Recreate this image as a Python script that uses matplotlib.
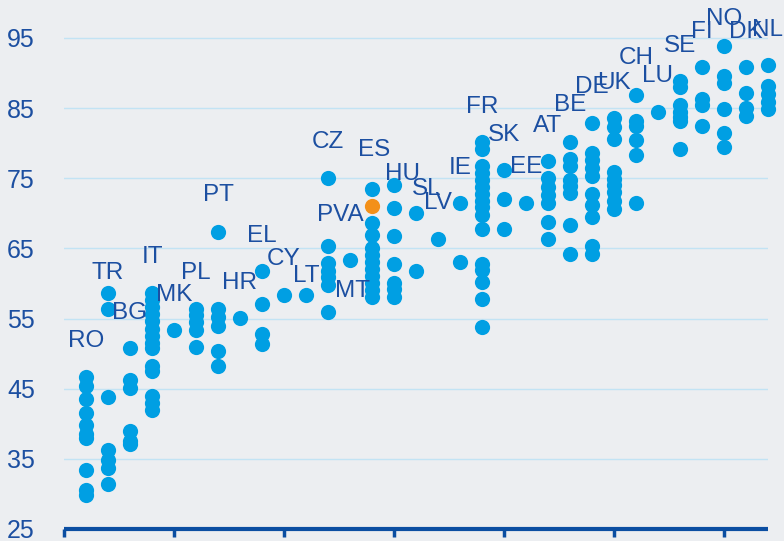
import matplotlib
matplotlib.use('Agg')
import matplotlib.pyplot as plt

# Country codes, in the order they sit along the x axis (1..32)
countries = ['RO', 'TR', 'BG', 'IT', 'MK', 'PL', 'PT', 'HR', 'EL', 'CY', 'LT',
             'CZ', 'MT', 'ES', 'HU', 'SL', 'LV', 'IE', 'FR', 'SK', 'EE', 'AT',
             'BE', 'DE', 'UK', 'CH', 'LU', 'SE', 'FI', 'NO', 'DK', 'NL']

# Index values per country
values = {
    'RO': [46.7, 45.4, 43.5, 41.5, 39.8, 38.6, 38.0, 33.4, 30.6, 29.9],
    'TR': [58.7, 56.4, 43.8, 36.3, 34.8, 33.7, 31.4],
    'BG': [50.8, 46.2, 45.1, 39.0, 37.6, 37.1],
    'IT': [58.7, 57.7, 56.7, 55.6, 54.6, 53.5, 52.5, 51.5, 50.8, 48.2, 47.5,
           43.9, 43.0, 41.9],
    'MK': [53.4],
    'PL': [56.4, 55.5, 54.5, 53.4, 51.0],
    'PT': [67.4, 56.4, 55.2, 54.0, 50.3, 48.2],
    'HR': [55.1],
    'EL': [61.8, 57.1, 52.8, 51.4],
    'CY': [58.4],
    'LT': [58.4],
    'CZ': [75.1, 65.4, 62.9, 61.8, 60.9, 59.8, 56.0],
    'MT': [63.4],
    'ES': [73.5, 68.6, 66.9, 65.1, 64.0, 63.0, 62.0, 61.1, 60.1, 59.0, 58.0],
    'HU': [74.1, 70.8, 66.8, 62.8, 60.1, 59.2, 58.0],
    'SL': [70.1, 61.8],
    'LV': [66.4],
    'IE': [71.5, 63.1],
    'FR': [80.1, 79.2, 76.7, 75.7, 74.7, 73.7, 72.8, 71.8, 70.9, 69.8, 67.8,
           62.8, 61.9, 60.2, 57.8, 53.8],
    'SK': [76.1, 72.1, 67.7],
    'EE': [71.5],
    'AT': [77.4, 75.0, 73.8, 72.6, 71.4, 68.8, 66.4],
    'BE': [80.1, 77.7, 76.8, 74.8, 73.9, 72.9, 68.4, 64.2],
    'DE': [82.8, 78.6, 77.6, 76.4, 75.3, 72.8, 71.2, 69.5, 65.4, 64.2],
    'UK': [83.6, 82.3, 80.6, 75.9, 74.9, 74.0, 73.0, 71.8, 70.6],
    'CH': [86.9, 83.2, 82.5, 80.4, 78.3, 71.5],
    'LU': [84.4],
    'SE': [88.8, 88.0, 85.5, 84.4, 83.7, 83.1, 79.2],
    'FI': [90.9, 86.3, 85.5, 82.5],
    'NO': [93.8, 89.5, 88.5, 84.8, 81.5, 79.4],
    'DK': [90.9, 87.1, 85.0, 83.9],
    'NL': [91.1, 88.1, 87.0, 85.8, 84.9],
}

# Highlighted point
pva_country = 'ES'
pva_value = 71.1

yticks = [25, 35, 45, 55, 65, 75, 85, 95]

# label placement (x, y) in data units
label_pos = {
    'RO': (1, 51.8), 'TR': (2, 61.5), 'BG': (3, 55.8), 'IT': (4, 63.8),
    'MK': (5, 58.4), 'PL': (6, 61.5), 'PT': (7, 72.6), 'HR': (8, 60.1),
    'EL': (9, 66.7), 'CY': (10, 63.5), 'LT': (11, 61.1), 'CZ': (12, 80.2),
    'MT': (13.1, 58.9), 'ES': (14.1, 79.0), 'HU': (15.4, 75.6),
    'SL': (16.5, 73.5), 'LV': (17, 71.5), 'IE': (18, 76.5), 'FR': (19, 85.1),
    'SK': (20, 81.2), 'EE': (21, 76.6), 'AT': (22, 82.5), 'BE': (23, 85.4),
    'DE': (24, 88.0), 'UK': (25, 88.5), 'CH': (26, 92.1), 'LU': (27, 89.6),
    'SE': (28, 93.9), 'FI': (29, 95.9), 'NO': (30, 97.7), 'DK': (31, 95.9),
    'NL': (32, 96.1),
}
pva_label_pos = (12.55, 69.8)

blue = '#009FE3'
orange = '#F39019'
text_col = '#1C4FA1'
axis_col = '#0B4EA2'
grid_col = '#C2E3F4'
bg = '#ECEEF1'

plt.rcParams['font.family'] = ['Liberation Sans', 'DejaVu Sans']

fig = plt.figure(figsize=(7.84, 5.41), dpi=100, facecolor=bg)
ax = fig.add_axes([64 / 784, 12 / 541, 704 / 784, 529 / 541])
ax.set_facecolor(bg)

for i, c in enumerate(countries):
    vals = values[c]
    ax.scatter([i + 1] * len(vals), vals, s=120, color=blue, linewidths=0,
               zorder=3, clip_on=False)
ax.scatter([countries.index(pva_country) + 1], [pva_value], s=120, color=orange,
           linewidths=0, zorder=4, clip_on=False)

for c in countries:
    x, y = label_pos[c]
    ax.text(x, y, c, ha='center', va='center', fontsize=17.5, color=text_col,
            zorder=5, clip_on=False)
ax.text(pva_label_pos[0], pva_label_pos[1], 'PVA', ha='center', va='center',
        fontsize=17.5, color=text_col, zorder=5)

ax.set_xlim(0, 32)
ax.set_ylim(25, 100.4)
ax.set_yticks(yticks)
ax.set_xticks(range(0, 31, 5))
ax.set_xticklabels([])
for y in yticks[1:]:
    ax.axhline(y, color=grid_col, linewidth=1, zorder=1)

for s in ['top', 'right', 'left']:
    ax.spines[s].set_visible(False)
ax.spines['bottom'].set_color(axis_col)
ax.spines['bottom'].set_linewidth(3)
ax.spines['bottom'].set_capstyle('butt')
ax.tick_params(axis='x', direction='out', length=6, width=2.5, color=axis_col)
ax.tick_params(axis='y', length=0, pad=21, labelsize=18, labelcolor=text_col)

fig.savefig('out.png', dpi=100, facecolor=bg)
